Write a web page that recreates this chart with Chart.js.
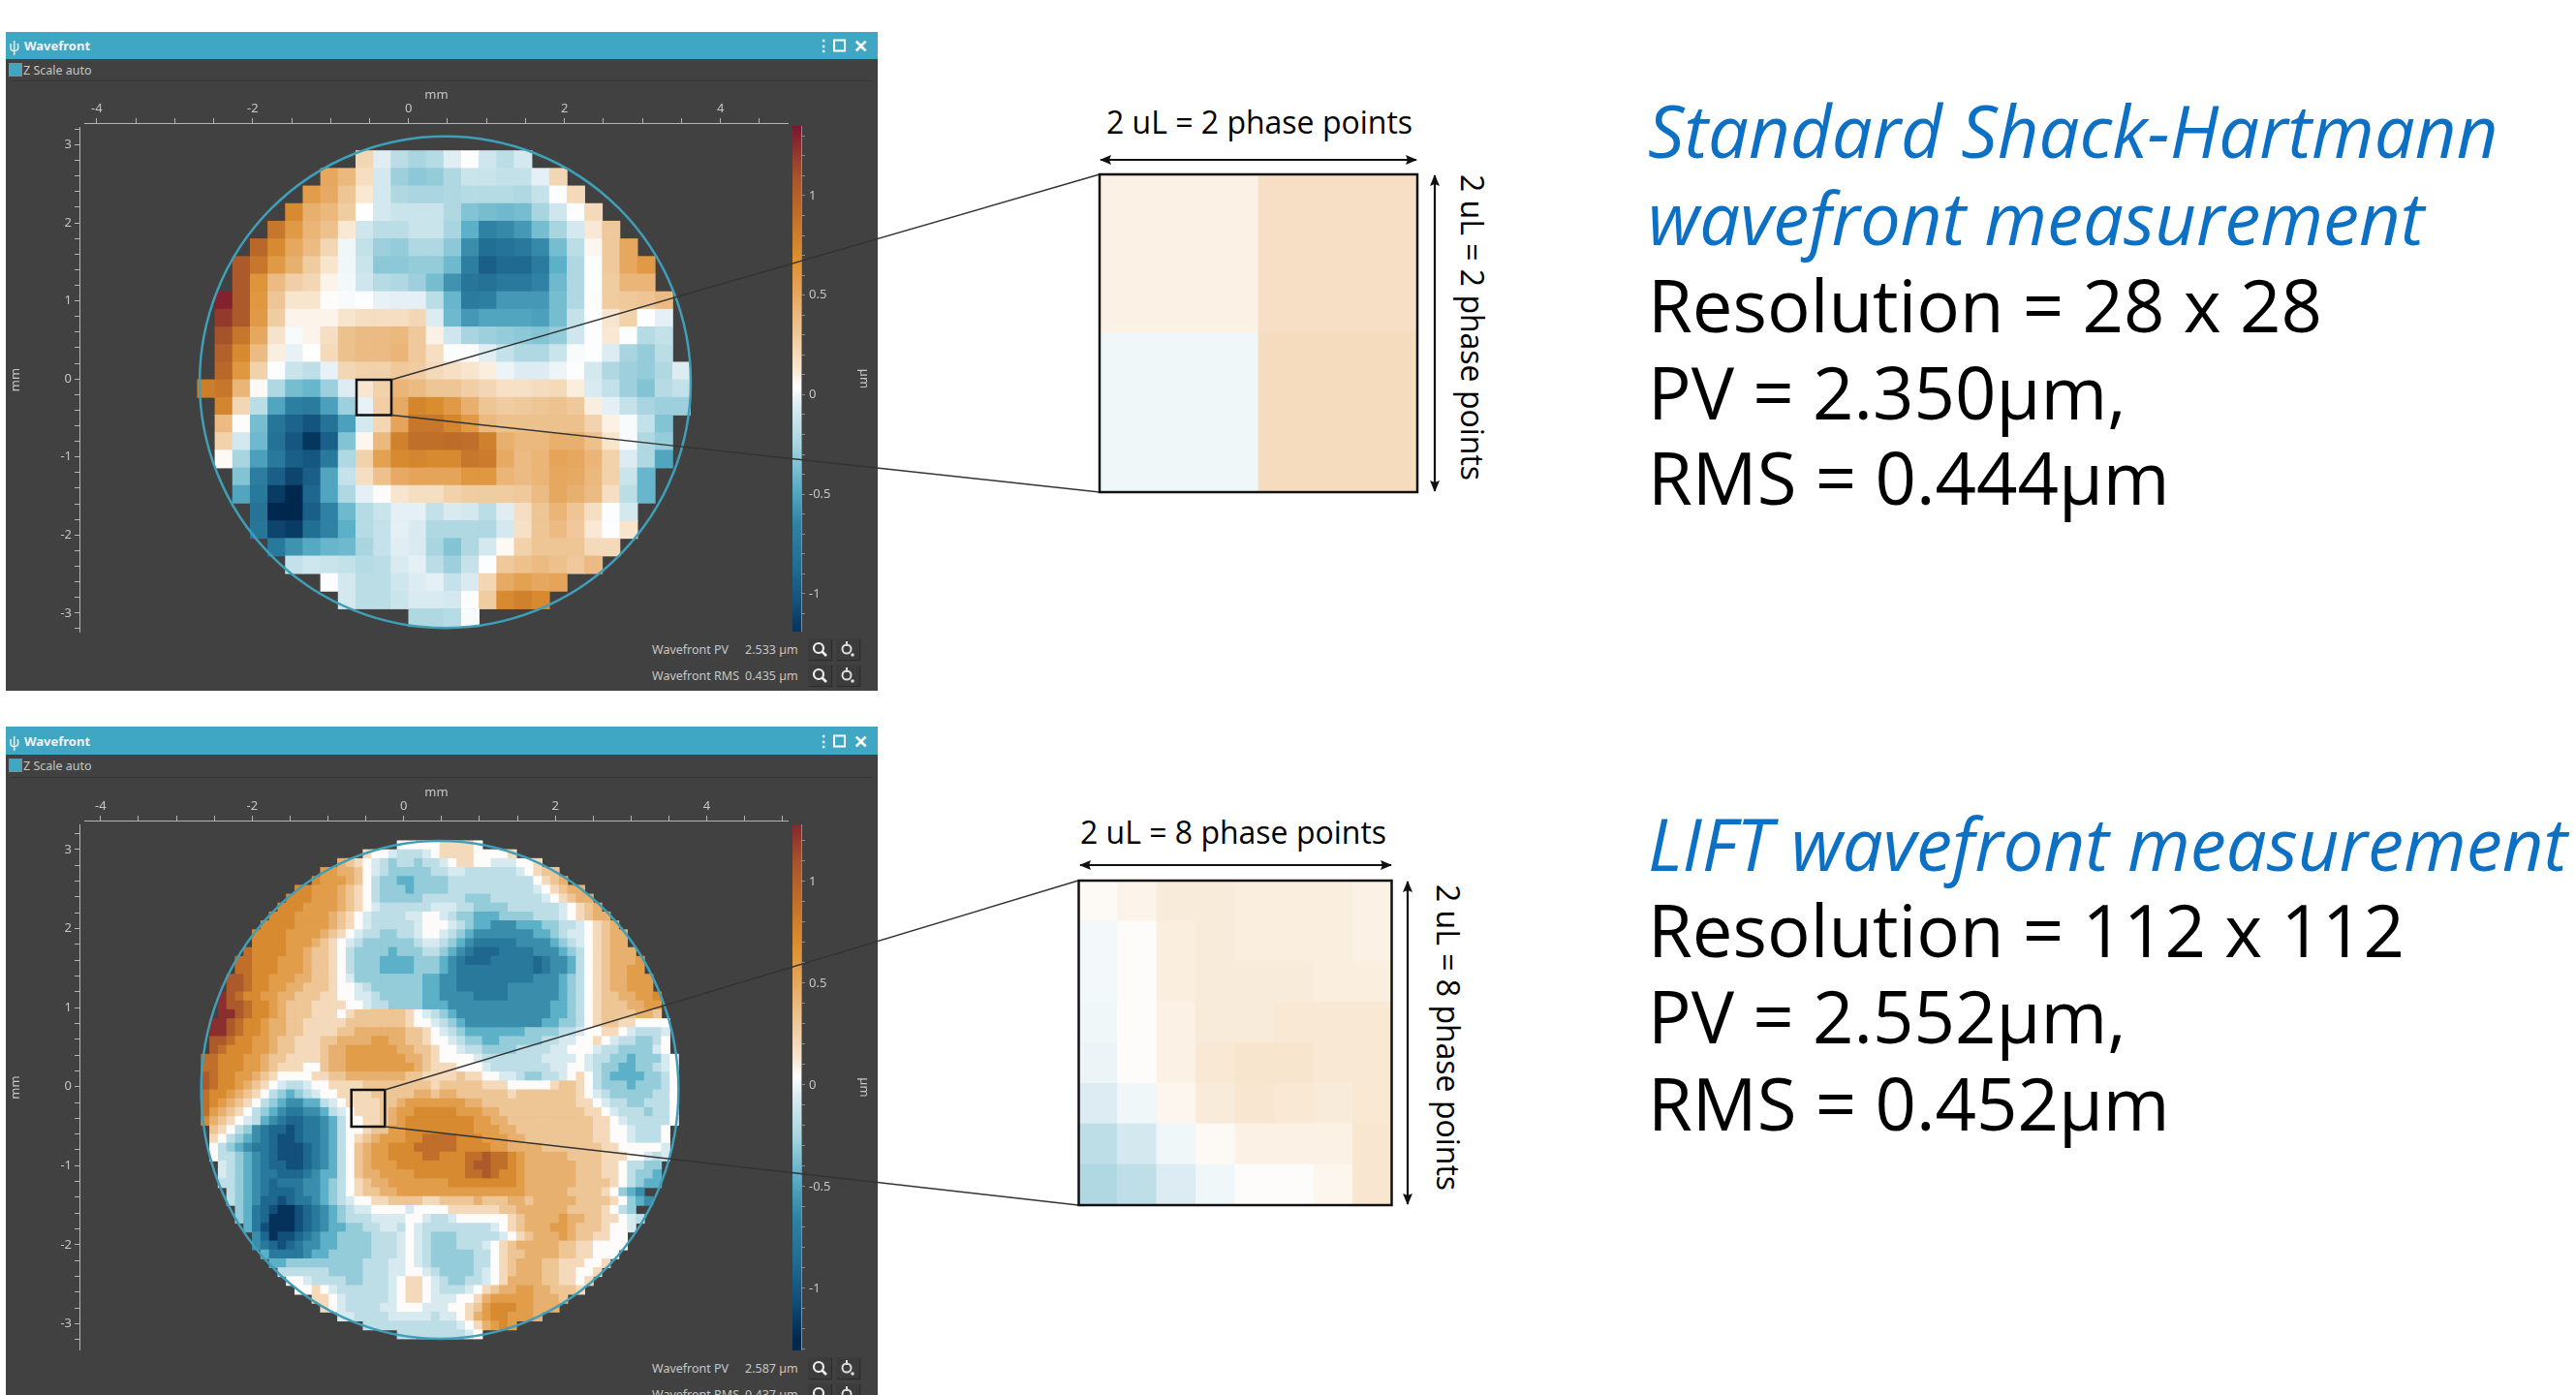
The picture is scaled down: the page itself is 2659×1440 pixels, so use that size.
<!DOCTYPE html>
<html>
<head>
<meta charset="utf-8">
<title>Wavefront</title>
<script src="https://cdn.jsdelivr.net/npm/chart.js@4/dist/chart.umd.min.js"></script>
<style>
html, body { margin: 0; padding: 0; background: #fff; width: 2659px; height: 1440px; overflow: hidden; }
body { position: relative; font-family: "Open Sans", sans-serif; }
canvas { position: absolute; display: block; }
.panel { position: absolute; left: 6px; width: 900px; background: #414141; overflow: hidden; font-family: "Noto Sans", sans-serif; color: #c6c6c6; }
.bar { position: absolute; left: 0; top: 0; right: 0; background: #3fa7c4; color: #f2f2f2; font-weight: 700; font-size: 13px; }
.bar span { position: absolute; top: 50%; transform: translateY(-50%); }
.sep { position: absolute; left: 5px; right: 5px; height: 1px; background: #363636; }
.chk { position: absolute; left: 3px; width: 12px; height: 12px; background: #3fa7c4; border: 1px solid #8a8a8a; }
.lbl { position: absolute; font-size: 12.5px; white-space: nowrap; transform: translateY(-50%); }
.btn { position: absolute; width: 24px; height: 22px; background: #3c3c3c; box-shadow: 1px 1px 1px #2c2c2c; }
.t { position: absolute; white-space: nowrap; color: #000; }
.big { font-size: 74.3px; left: 1701px; transform: translateY(-50%); }
.head { color: #0c70c4; font-style: italic; }
.note { font-size: 32px; transform: translate(-50%, -50%); }
.note.v { transform: translate(-50%, -50%) rotate(90deg); }
</style>
</head>
<body>
<script>
/* global Chart */

// colour scale of the wavefront map, um
var cmapValues = [-1.25, -1.05, -0.85, -0.65, -0.45, -0.25, -0.05, 0.04, 0.12, 0.3, 0.5, 0.68, 0.9, 1.1, 1.35];
var cmapColors = ["#00284f", "#124f7a", "#226f94", "#2f82a3", "#5cb0c8", "#a8d5e0", "#dcecf2", "#ffffff", "#f8e8d4", "#efc99b", "#e6a75f", "#dc9030", "#c06f2a", "#a5532b", "#7a1530"];

var colorbarTicks = [-1, -0.5, 0, 0.5, 1];
var xTickLabels = [-4, -2, 0, 2, 4];
var yTickLabels = [-3, -2, -1, 0, 1, 2, 3];

// Standard map: 0.01 um per unit, first column of each row in topRowStart
var topRowStart = [9, 7, 6, 5, 4, 3, 2, 2, 1, 1, 1, 1, 1, 0, 1, 1, 1, 1, 2, 2, 3, 3, 4, 5, 7, 8, 12];
var topRows = [
  [22,-4,-18,-25,-20,-4,3,-10,-18,-8],
  [50,40,18,-8,-28,-32,-30,-22,-12,-12,-15,-15,-3,22],
  [58,48,32,12,-8,-22,-24,-24,-22,-20,-20,-20,-22,-14,3,20],
  [72,45,40,28,4,-8,-12,-12,-12,-22,-35,-38,-40,-38,-25,-10,3,20],
  [85,60,42,35,12,-10,-18,-18,-12,-12,-25,-45,-65,-62,-55,-38,-25,-8,12,30],
  [95,72,50,38,22,0,-15,-28,-30,-22,-22,-32,-60,-85,-80,-75,-62,-38,-18,7,30,50],
  [105,85,60,45,28,14,0,-12,-32,-32,-30,-30,-40,-68,-95,-88,-88,-72,-45,-22,3,30,50,60],
  [105,65,38,27,22,8,1,-10,-20,-22,-28,-38,-58,-78,-82,-75,-75,-65,-40,-22,3,28,42,42],
  [130,105,62,32,14,14,5,2,3,-2,-3,-3,-18,-42,-72,-68,-55,-55,-55,-38,-22,5,28,30,32,38],
  [120,105,60,28,8,8,8,14,18,18,18,22,-5,-40,-55,-50,-50,-50,-52,-38,-14,3,14,25,4,-3],
  [110,85,50,15,2,8,18,35,38,38,40,30,9,-10,-25,-28,-30,-32,-35,-30,-10,3,12,3,-20,-15],
  [100,72,38,10,-2,4,20,35,38,38,42,30,18,3,5,-4,-15,-22,-22,-12,2,3,-5,-25,-30,-18],
  [95,62,25,3,-12,-16,-2,22,25,25,30,28,20,17,14,10,-1,-5,-5,-1,3,-8,-22,-28,-30,-22,-5],
  [80,85,42,6,-22,-38,-42,-28,-5,13,25,42,38,32,32,27,22,16,16,19,20,10,-6,-15,-28,-35,-20,-15],
  [75,22,-18,-50,-68,-72,-52,-28,-2,27,48,75,70,60,45,32,28,30,32,34,30,10,-3,-14,-25,-28,-28],
  [38,5,-38,-78,-92,-102,-82,-52,-8,22,52,85,85,75,60,40,35,35,35,35,35,24,9,2,-15,-35],
  [25,-8,-40,-82,-100,-118,-95,-35,7,40,78,90,90,92,90,78,45,40,40,45,45,35,14,2,-22,-30],
  [6,-25,-52,-75,-95,-100,-75,-22,25,55,72,75,72,72,85,82,48,38,42,52,50,42,25,-5,-22,-50],
  [-35,-70,-95,-110,-95,-50,-14,18,35,48,52,52,52,62,62,42,38,42,50,48,40,25,-12,-42],
  [-50,-75,-115,-125,-90,-50,-22,-3,5,14,18,18,25,28,28,28,30,38,50,45,38,18,-18,-42],
  [-80,-125,-135,-95,-65,-40,-20,-12,-3,-3,-15,-6,-8,-18,-4,18,32,42,32,18,3,-8],
  [-78,-110,-115,-85,-65,-45,-20,-14,-3,-6,-22,-22,-22,-22,-8,16,32,38,30,12,3,14],
  [-75,-58,-48,-42,-40,-25,-14,-4,-6,-25,-35,-22,-8,6,25,32,32,32,20,20],
  [-15,-10,-12,-15,-20,-18,-6,-3,-18,-28,-14,3,30,35,38,35,30,38],
  [3,-8,-18,-18,-10,-5,-3,-14,-6,22,48,55,50,52],
  [-8,-18,-18,-12,-6,-6,-8,3,28,72,78,72],
  [-22,-22,-20,2]
];

// LIFT map, sampled on a 56 x 56 grid, one letter per cell, see lowerLevels
var lowerLevels = { a: -1.2, b: -1.05, c: -0.9, d: -0.75, e: -0.6, f: -0.45, g: -0.3, h: -0.17, i: -0.07, w: 0.05, j: 0.2, k: 0.32, l: 0.45, m: 0.58, n: 0.72, o: 0.9, p: 1.05, q: 1.25 };
var lowerRowStart = [23, 19, 16, 14, 13, 11, 10, 9, 8, 7, 6, 6, 5, 4, 4, 3, 3, 2, 2, 2, 1, 1, 1, 1, 0, 0, 0, 0, 0, 0, 0, 0, 1, 1, 1, 1, 2, 2, 2, 3, 3, 4, 4, 5, 6, 6, 7, 8, 9, 10, 11, 13, 14, 16, 19, 23];
var lowerRows = [
  "wwwwwjjjjw",
  "jwwihhhiwjjjjwwwwj",
  "lkjwihghhghhiwjjwwiiiwwj",
  "mmllkwihggggghhiihhhhhhiwjkk",
  "nmmmlkwhggffgggghhhhhhhhhhwjkl",
  "nnmmmlkjwhgggfgggghhhhhhhhhhiwjkll",
  "nnnmmmlkjwhggggghhhhhggghhhhhhiwjkll",
  "nnnmmmmlkjwihhhhhhiiihhgggghhhhhhiwjkl",
  "nnnmmmmlkjwihhhhiiwwihggfffgggghhhiwjkll",
  "nnnnmmmmlkjwihhhhhiwwwihgffeeefffgghhiwjkl",
  "nnnnmmmmlkjwihhgghhiwwihgfeeeeeeeffghiiwjkll",
  "nnnnmmmlkjwihgggggghiihgfedddddeeeefghiwjkll",
  "onnnnmmlkkjwhggggfggghhgfedcccddddeeefghwjklll",
  "oonnnmmmlkkjwhgggffffgggfedcccdddddcdeefhwjklllm",
  "oonnnmmmlkkjwhgggffffgggfedddddddddcdeefhwjkllmm",
  "pponnmmmllkkjwiggggggggffeedddddddddeeefghwjkllmmm",
  "pponnmmllkkkjwwihggggggffeeddddddeeeeeefghwjkllmmm",
  "qponnmmllkkkjjwwiihgggggffeeeeddddeeeeeefghwjkkllmmn",
  "qpponnmlkkkjjjjwwihhggggfffeeeeeeeeeeeeffghwjkkkllmm",
  "qqponnmlkkkjjjwjkkkkkkjwihgfeeeeeeeeeeeffghwjkkkkllk",
  "qqponnmllkkjjjjjkkkkkkkjwwihgfeeeeeeeeeffgghwjkkjjwwww",
  "qqponnmllkkjjjjkkllllllkkjwihgfffffffgggghhiwwjjwihhhi",
  "pponnmmlkkjjjkkllllmmllkkjwwihggffggggghhiiwwjwihhgghw",
  "ponnnmmlkkjjjkllmmmmmmllkkjwwihhgggghhhhiiwwwihhggggiw",
  "oonnnmmlkkjjjjkllmmmmmmmllkjwwwwihhhhhhhiiiiwihhggfgggiw",
  "oonnnmmlkjjjwwkllmmmmmmmmlkjjjwwwihhhhhhhiiwwihggffgghiw",
  "ponnmmlkjwwwwjjkklllllllkkjjjjkjjwwiihgghhiwjwhgffffgghw",
  "ponnmlkjwihhiwwjjjjkkkkkkkkjkkkkkjjjwwwwwjkkjwhgggfggghw",
  "onnmlkjwhgfghiwwjjjjkkkkkllkllkkkkkkjkkkkkkkjwihggggghhw",
  "onmlkjwhgfeeffhiwjjjjkklmmmmmmmllkkkkkkkkkkkjjwihhgghhhw",
  "omlkjwhgfeddeefhiwjjjklmmnnnnnmmmllkkkkkkkkkkjjwihhhghhw",
  "nlkjwihfedccddefhwwjjklmnnnnnnnnmmllkkkkkkkkkkjjwihhhhhw",
  "kjwhgedccbcddefhwwjkkmmnnnnnnnnmmmllkkkkkkkkkjjwwihhhw",
  "jwhgfedcbbcddefhwjklmmmnnoooonnnmmmllkkkkkkkkjjwwihhhw",
  "whgfeddcbbbcdefhwklmmnnnooooonnnnmmllllkkkkkkkjjwwwwwi",
  "whhgfedcbbbcdefhwklmmnnnnoonnnoopoonmlllllkkkkjjjwwihi",
  "ihgfedccbbcdefhwklmmmnnnnnnnnoppoonmllllllkkkjjwhhgg",
  "ihgfeddcccdeffhwkllmmmmnnnnnnooponnmllllllkkkjjwhggf",
  "hhgfedcdddeefghwjkllmmmmmmmnnnnnnnnmllllllkkkkjwhgff",
  "hgfedcccdeefghwjkkllmmmmmmmmmmmmmmmlllllkkkkjwgfe",
  "hgfeccbcddefghiwwjjkkkkjjkkkklkkkllklllllkkkkjwgfe",
  "gfdcbaabcdefghiiwwwwiwwwwjjjjjjkkllllllkkkkjwhg",
  "gfdcaaabcdefghhhiiiiwwihhiwwwwwwjkllllmllkkjjwih",
  "fdbaaabcdeffgghhiihwihhhhhhhhiwjklllmmlkkkjwwi",
  "ecabbcdeffgggghhhiwihggghhhhhiwjklllmlkkjjww",
  "edcbcdeeffgggghhhiwihggghhhiwjklllllkkjjwwww",
  "fddddeffggggghhhiwihggggghhwjkkllllkkjjwww",
  "ffggggggggghhhiiwihggggghhwjklllkkjjjwwj",
  "hhhhhhgggghhhiiwwihgggghiwjklllkkjjwwj",
  "wwihhhhgghhhiwjjwihgghhiwjllllkkjjwj",
  "wwjwihhhhhhiwjjwihhhiwjkllmmllkkkj",
  "jjwihhhhhiwjjwiiiwwjlmmmmmlllk",
  "jwihhhhiiwwwiiiwwjkmnnnmmlll",
  "iihhhhiiiiihiiwjlmnnmmml",
  "hhhhhhhhhhhiwjlmnm",
  "hhhhhhhhiw"
];

// the two magnified regions, same units as topRows
var insetTop = [
  [9, 17],
  [0, 19]
];
var insetLower = [
  [6, 8, 11, 11, 10, 10, 10, 9],
  [1, 5, 10, 11, 10, 10, 10, 9],
  [1, 5, 10, 11, 11, 11, 10, 10],
  [0, 5, 9, 11, 11, 12, 12, 12],
  [-1, 5, 9, 12, 14, 14, 12, 12],
  [-5, 0, 7, 11, 13, 12, 11, 12],
  [-17, -8, 0, 6, 9, 9, 9, 13],
  [-22, -16, -5, 0, 5, 5, 7, 13]
];

var axisColor = "#b4b4b4";
var textColor = "#c6c6c6";
var tickFont = { family: "Noto Sans", size: 13 };

function hexRgb(h) {
  return [parseInt(h.substr(1, 2), 16), parseInt(h.substr(3, 2), 16), parseInt(h.substr(5, 2), 16)];
}

function cmapColor(v) {
  var n = cmapValues.length;
  if (v <= cmapValues[0]) return cmapColors[0];
  if (v >= cmapValues[n - 1]) return cmapColors[n - 1];
  for (var i = 1; i < n; i++) {
    if (v <= cmapValues[i]) {
      var f = (v - cmapValues[i - 1]) / (cmapValues[i] - cmapValues[i - 1]);
      var a = hexRgb(cmapColors[i - 1]), b = hexRgb(cmapColors[i]);
      return "rgb(" + Math.round(a[0] + (b[0] - a[0]) * f) + "," + Math.round(a[1] + (b[1] - a[1]) * f) + "," + Math.round(a[2] + (b[2] - a[2]) * f) + ")";
    }
  }
}

function addCanvas(left, top, width, height) {
  var c = document.createElement("canvas");
  c.width = width;
  c.height = height;
  c.style.left = left + "px";
  c.style.top = top + "px";
  document.body.appendChild(c);
  return c;
}

// cells: one floating bar per map cell
function cellData(rows, starts, x0, yTop, cell, valueOf) {
  var data = [], colors = [];
  rows.forEach(function (row, r) {
    for (var i = 0; i < row.length; i++) {
      var v = valueOf(row[i]);
      var c = starts[r] + i;
      data.push({ x: x0 + (c + 0.5) * cell, y: [yTop - (r + 1) * cell, yTop - r * cell] });
      colors.push(cmapColor(v));
    }
  });
  return { data: data, colors: colors };
}

function fixSize(w, h) {
  return function (s) {
    if (w) s.width = w;
    if (h) s.height = h;
    s.paddingLeft = s.paddingRight = s.paddingTop = s.paddingBottom = 0;
  };
}

var circlePlugin = {
  id: "pupil",
  afterLayout: function (chart) {
    // the two axis lines stand a little off the plot, as in the instrument window
    var o = chart.options.plugins.pupil;
    chart.scales.x.top -= o.xShift;
    chart.scales.x.bottom -= o.xShift;
    chart.scales.y.left -= o.yShift;
    chart.scales.y.right -= o.yShift;
  },
  afterDatasetsDraw: function (chart) {
    var o = chart.options.plugins.pupil, x = chart.scales.x, y = chart.scales.y, ctx = chart.ctx;
    ctx.save();
    ctx.strokeStyle = "#3f9fb8";
    ctx.lineWidth = 2.5;
    ctx.beginPath();
    ctx.ellipse(x.getPixelForValue(o.cx), y.getPixelForValue(o.cy),
      x.getPixelForValue(o.cx + o.r) - x.getPixelForValue(o.cx),
      y.getPixelForValue(o.cy - o.r) - y.getPixelForValue(o.cy), 0, 0, Math.PI * 2);
    ctx.stroke();
    ctx.restore();
  }
};

function mapChart(p, cells) {
  var area = p.area; // left, top, right, bottom of the plot on the page
  var c = addCanvas(6, area.top - 45, area.right - 6, area.bottom - area.top + 45);
  new Chart(c, {
    type: "bar",
    data: { datasets: [{ data: cells.data, backgroundColor: cells.colors, borderWidth: 0, inflateAmount: 0.4, barPercentage: 1, categoryPercentage: 1 }] },
    plugins: [circlePlugin],
    options: {
      responsive: false,
      animation: false,
      events: [],
      devicePixelRatio: 1,
      layout: { padding: 0 },
      plugins: {
        legend: { display: false },
        tooltip: { enabled: false },
        pupil: { cx: p.cx, cy: p.cy, r: p.r, xShift: 4, yShift: 5 }
      },
      scales: {
        x: {
          type: "linear", position: "top", offset: false, min: p.xMin, max: p.xMax,
          afterFit: fixSize(0, 45),
          title: { display: true, text: "mm", color: textColor, font: tickFont, padding: 8 },
          border: { color: axisColor, width: 1 },
          grid: { offset: false, drawOnChartArea: false, tickColor: axisColor, tickLength: 5 },
          ticks: {
            color: textColor, font: tickFont, padding: 2, stepSize: 0.5, autoSkip: false, maxRotation: 0, includeBounds: false,
            callback: function (v) { return xTickLabels.indexOf(v) >= 0 ? String(v) : ""; }
          }
        },
        y: {
          type: "linear", position: "left", min: p.yMin, max: p.yMax,
          afterFit: fixSize(81, 0),
          title: { display: true, text: "mm", color: textColor, font: tickFont, padding: 7 },
          border: { color: axisColor, width: 1 },
          grid: { drawOnChartArea: false, tickColor: axisColor, tickLength: 5 },
          ticks: {
            color: textColor, font: tickFont, padding: 3, stepSize: 0.2, autoSkip: false, includeBounds: false,
            callback: function (v) {
              var r = Math.round(v * 10) / 10;
              return yTickLabels.indexOf(r) >= 0 ? String(r) : "";
            }
          }
        }
      }
    }
  });
}

function colorbarChart(box, zMin, zMax) {
  var c = addCanvas(box.left, box.top, 84, box.bottom - box.top);
  new Chart(c, {
    type: "bar",
    data: {
      labels: [""],
      datasets: [{
        data: [[zMin, zMax]],
        borderWidth: 0,
        barPercentage: 1,
        categoryPercentage: 1,
        backgroundColor: function (ctx) {
          var y = ctx.chart.scales.y;
          if (!y) return "#888";
          var y0 = y.getPixelForValue(cmapValues[0]), y1 = y.getPixelForValue(cmapValues[cmapValues.length - 1]);
          if (!isFinite(y0) || !isFinite(y1)) return "#888";
          var g = ctx.chart.ctx.createLinearGradient(0, y0, 0, y1);
          cmapValues.forEach(function (v, i) {
            g.addColorStop((v - cmapValues[0]) / (cmapValues[cmapValues.length - 1] - cmapValues[0]), cmapColors[i]);
          });
          return g;
        }
      }]
    },
    options: {
      responsive: false,
      animation: false,
      events: [],
      devicePixelRatio: 1,
      layout: { padding: 0 },
      plugins: { legend: { display: false }, tooltip: { enabled: false } },
      scales: {
        x: { display: false },
        y: {
          position: "right", min: zMin, max: zMax,
          afterFit: fixSize(75, 0),
          title: { display: true, text: "µm", color: textColor, font: tickFont, padding: 2 },
          border: { color: "#8c8c8c", width: 2 },
          grid: { drawOnChartArea: false, tickColor: "#8c8c8c", tickLength: 4 },
          ticks: {
            color: textColor, font: tickFont, padding: 4, stepSize: 0.1, autoSkip: false, includeBounds: false,
            callback: function (v) {
              var r = Math.round(v * 10) / 10;
              return colorbarTicks.indexOf(r) >= 0 ? String(r) : "";
            }
          }
        }
      }
    }
  });
}

function insetChart(box, grid) {
  var n = grid.length;
  var flat = grid.map(function () { return 0; });
  var cells = cellData(grid, flat, 0, n, 1, function (v) { return v / 100; });
  var c = addCanvas(box.left, box.top, box.width, box.height);
  new Chart(c, {
    type: "bar",
    data: { datasets: [{ data: cells.data, backgroundColor: cells.colors, borderWidth: 0, inflateAmount: 0.4, barPercentage: 1, categoryPercentage: 1 }] },
    options: {
      responsive: false,
      animation: false,
      events: [],
      devicePixelRatio: 1,
      layout: { padding: 0 },
      plugins: { legend: { display: false }, tooltip: { enabled: false } },
      scales: {
        x: { type: "linear", display: false, offset: false, min: 0, max: n, grid: { offset: false }, ticks: { stepSize: 1 } },
        y: { type: "linear", display: false, min: 0, max: n, ticks: { stepSize: 1 } }
      }
    }
  });
}

var lensIcon = '<svg width="24" height="22" viewBox="0 0 24 22"><circle cx="11" cy="10" r="5" fill="none" stroke="#eee" stroke-width="2.2"/><line x1="14.5" y1="13.5" x2="19" y2="18" stroke="#eee" stroke-width="2.6"/></svg>';
var probeIcon = '<svg width="24" height="22" viewBox="0 0 24 22"><circle cx="11" cy="11" r="4.5" fill="none" stroke="#ddd" stroke-width="2"/><line x1="11" y1="3" x2="11" y2="8" stroke="#ddd" stroke-width="2"/><circle cx="17" cy="17" r="1.8" fill="#ddd"/></svg>';

function addPanel(p) {
  var el = document.createElement("div");
  el.className = "panel";
  el.style.top = p.top + "px";
  el.style.height = p.height + "px";
  var h =
    '<div class="bar" style="height:' + p.barH + 'px"><span style="left:3px;font-size:15px;font-weight:400">ψ</span><span style="left:19px">Wavefront</span>' +
    '<span style="left:836px;font-size:16px">⋮</span>' +
    '<span style="left:854px;width:9px;height:9px;border:2px solid #fff"></span>' +
    '<span style="left:875px;font-size:18px;color:#fff">✕</span></div>' +
    '<div class="chk" style="top:' + (p.barH + 4) + 'px"></div>' +
    '<div class="lbl" style="left:18px;top:' + (p.barH + 11) + 'px">Z Scale auto</div>' +
    '<div class="sep" style="top:' + p.sepY + 'px"></div>';
  p.readouts.forEach(function (r) {
    h += '<div class="lbl" style="left:667px;top:' + r.y + 'px">' + r.name + '</div>' +
      '<div class="lbl" style="left:763px;top:' + r.y + 'px">' + r.value + '</div>' +
      '<div class="btn" style="left:828px;top:' + (r.y - 11) + 'px">' + lensIcon + '</div>' +
      '<div class="btn" style="left:857px;top:' + (r.y - 11) + 'px">' + probeIcon + '</div>';
  });
  el.innerHTML = h;
  document.body.appendChild(el);
}

function addText(cls, left, top, text) {
  var d = document.createElement("div");
  d.className = "t " + cls;
  d.style.left = left + "px";
  d.style.top = top + "px";
  d.textContent = text;
  document.body.appendChild(d);
}

addPanel({ top: 33, height: 680, barH: 28, sepY: 50,
  readouts: [{ name: "Wavefront PV", value: "2.533 µm", y: 637 }, { name: "Wavefront RMS", value: "0.435 µm", y: 664 }] });
addPanel({ top: 750, height: 700, barH: 29, sepY: 52,
  readouts: [{ name: "Wavefront PV", value: "2.587 µm", y: 662 }, { name: "Wavefront RMS", value: "0.437 µm", y: 689 }] });

mapChart(
  { area: { top: 131, right: 814, bottom: 653 }, xMin: -4.16, xMax: 4.875, yMin: -3.25, yMax: 3.23, cx: 0.47, cy: -0.04, r: 3.15 },
  cellData(topRows, topRowStart, -2.708, 2.925, 0.2258, function (v) { return v / 100; })
);
mapChart(
  { area: { top: 851, right: 814, bottom: 1394 }, xMin: -4.216, xMax: 5.08, yMin: -3.337, yMax: 3.317, cx: 0.477, cy: -0.04, r: 3.15 },
  cellData(lowerRows, lowerRowStart, -2.673, 3.11, 0.1125, function (ch) { return lowerLevels[ch]; })
);
colorbarChart({ left: 818, top: 130, bottom: 652 }, -1.19, 1.35);
colorbarChart({ left: 818, top: 851, bottom: 1394 }, -1.305, 1.28);
insetChart({ left: 1135, top: 180, width: 328, height: 328 }, insetTop);
insetChart({ left: 1113, top: 909, width: 324, height: 335 }, insetLower);

addText("note", 1300, 125, "2 uL = 2 phase points");
addText("note v", 1520, 338, "2 uL = 2 phase points");
addText("note", 1273, 858, "2 uL = 8 phase points");
addText("note v", 1495, 1071, "2 uL = 8 phase points");

addText("big head", 1701, 134, "Standard Shack-Hartmann");
addText("big head", 1701, 224, "wavefront measurement");
addText("big", 1701, 314, "Resolution = 28 x 28");
addText("big", 1701, 404, "PV = 2.350µm,");
addText("big", 1701, 492, "RMS = 0.444µm");
addText("big head", 1701, 870, "LIFT wavefront measurement");
addText("big", 1701, 959, "Resolution = 112 x 112");
addText("big", 1701, 1048, "PV = 2.552µm,");
addText("big", 1701, 1138, "RMS = 0.452µm");

// zoom boxes, connector lines and dimension arrows
document.body.insertAdjacentHTML("beforeend",
  '<svg width="2659" height="1440" style="position:absolute;left:0;top:0;pointer-events:none">' +
  '<defs><marker id="ah" viewBox="0 0 12 10" refX="11" refY="5" markerWidth="12" markerHeight="10" markerUnits="userSpaceOnUse" orient="auto-start-reverse"><path d="M0 0L12 5L0 10L2 5z" fill="#111"/></marker></defs>' +
  '<g fill="none" stroke="#111">' +
  '<rect x="368" y="392" width="36" height="36.5" stroke-width="2.5"/>' +
  '<rect x="362.7" y="1125" width="34.6" height="38" stroke-width="2.5"/>' +
  '<line x1="404" y1="392" x2="1135" y2="180" stroke="#333" stroke-width="1.4"/>' +
  '<line x1="404" y1="428.5" x2="1135" y2="508" stroke="#333" stroke-width="1.4"/>' +
  '<line x1="397.3" y1="1125" x2="1113" y2="909" stroke="#333" stroke-width="1.4"/>' +
  '<line x1="397.3" y1="1163" x2="1113" y2="1244" stroke="#333" stroke-width="1.4"/>' +
  '<rect x="1135" y="180" width="328" height="328" stroke-width="2.5"/>' +
  '<rect x="1113.5" y="909" width="323" height="335" stroke-width="2.5"/>' +
  '<line x1="1136" y1="165" x2="1462" y2="165" stroke-width="2.2" marker-start="url(#ah)" marker-end="url(#ah)"/>' +
  '<line x1="1481" y1="181" x2="1481" y2="507" stroke-width="2.2" marker-start="url(#ah)" marker-end="url(#ah)"/>' +
  '<line x1="1115" y1="893" x2="1436" y2="893" stroke-width="2.2" marker-start="url(#ah)" marker-end="url(#ah)"/>' +
  '<line x1="1453" y1="910" x2="1453" y2="1243" stroke-width="2.2" marker-start="url(#ah)" marker-end="url(#ah)"/>' +
  '</g></svg>');
</script>
</body>
</html>
